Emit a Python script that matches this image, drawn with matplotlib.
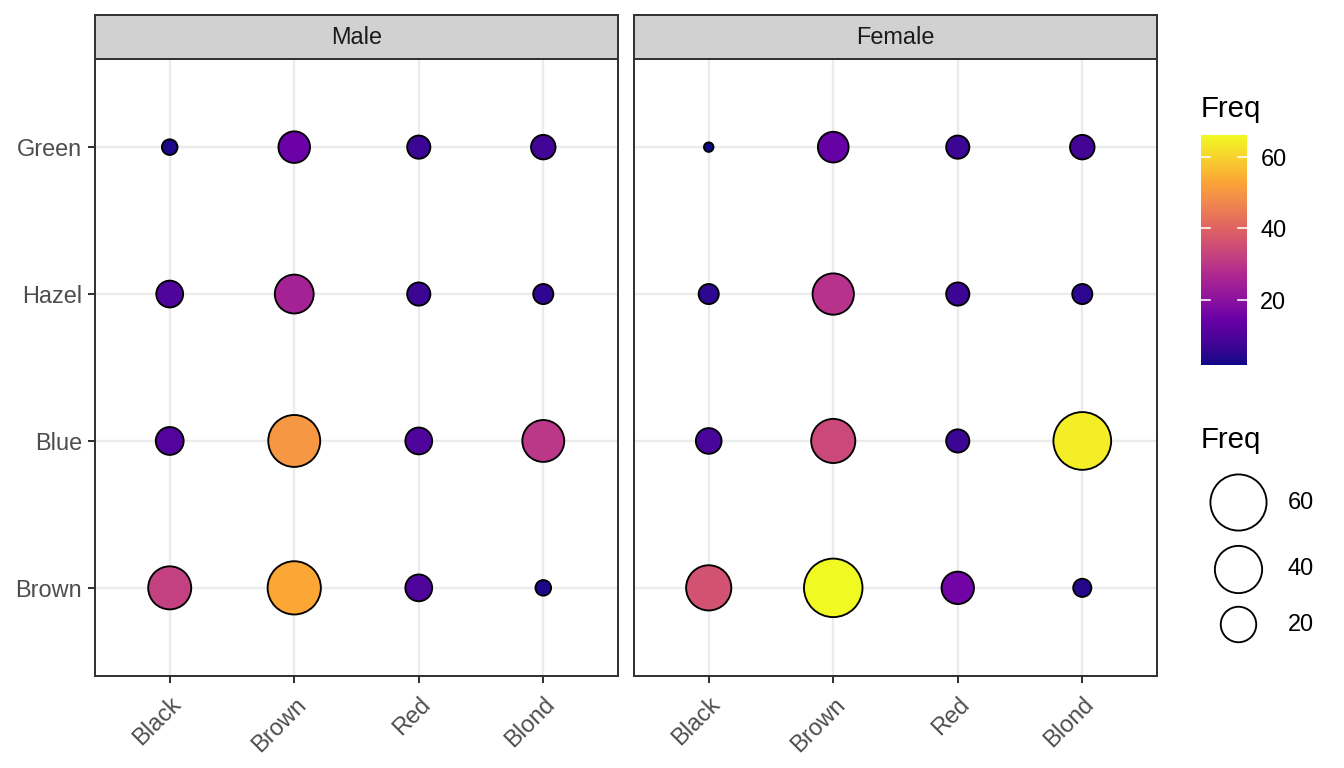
import numpy as np
import matplotlib
matplotlib.use("Agg")
import matplotlib.pyplot as plt
from matplotlib.colors import Normalize, ListedColormap, to_rgb

plt.rcParams['font.family'] = ['Liberation Sans', 'DejaVu Sans']

hair = ['Black', 'Brown', 'Red', 'Blond']
eyes = ['Brown', 'Blue', 'Hazel', 'Green']
# rows = eye colour, columns = hair colour
male = [[32, 53, 10, 3],
        [11, 50, 10, 30],
        [10, 25, 7, 5],
        [3, 15, 7, 8]]
female = [[36, 66, 16, 4],
          [9, 34, 7, 64],
          [5, 29, 7, 5],
          [2, 14, 7, 8]]
panels = ['Male', 'Female']
legend_breaks = [60, 40, 20]

W, H, DPI = 1344, 768, 192
vmin, vmax = 2, 66

# ggplot's viridis_c: six plasma stops interpolated in Lab space
plasma6 = ['#0D0887', '#6A00A8', '#B12A90', '#E16462', '#FCA636', '#F0F921']
M = np.array([[0.4124564, 0.3575761, 0.1804375],
			  [0.2126729, 0.7151522, 0.0721750],
			  [0.0193339, 0.1191920, 0.9503041]])
WHITE = np.array([0.95047, 1.0, 1.08883])
D = 6 / 29


def rgb2lab(rgb):
	c = np.asarray(rgb, float)
	lin = np.where(c <= 0.04045, c / 12.92, ((c + 0.055) / 1.055) ** 2.4)
	t = (M @ lin) / WHITE
	f = np.where(t > D ** 3, np.cbrt(t), t / (3 * D ** 2) + 4 / 29)
	return np.array([116 * f[1] - 16, 500 * (f[0] - f[1]), 200 * (f[1] - f[2])])


def lab2rgb(lab):
	L, a, b = lab
	fy = (L + 16) / 116
	f = np.array([fy + a / 500, fy, fy - b / 200])
	t = np.where(f > D, f ** 3, 3 * D ** 2 * (f - 4 / 29)) * WHITE
	lin = np.linalg.solve(M, t)
	c = np.where(lin <= 0.0031308, 12.92 * lin, 1.055 * np.clip(lin, 0, None) ** (1 / 2.4) - 0.055)
	return np.clip(c, 0, 1)


stops = np.array([rgb2lab(to_rgb(h)) for h in plasma6])
pos = np.linspace(0, 1, len(plasma6))
grid = np.linspace(0, 1, 256)
lab_grid = np.stack([np.interp(grid, pos, stops[:, i]) for i in range(3)], axis=1)
cmap = ListedColormap([lab2rgb(l) for l in lab_grid])
norm = Normalize(vmin, vmax)


def diam_px(v):
	return 11 + 49 * np.sqrt((np.asarray(v, float) - vmin) / (vmax - vmin))


def marker_area(v):
	return ((diam_px(v) - 1.5) * 72 / DPI) ** 2


def rect(x0, y0, x1, y1):
	# pixel box (top-left origin) -> figure fraction
	return [x0 / W, (H - y1) / H, (x1 - x0) / W, (y1 - y0) / H]


fig = plt.figure(figsize=(W / DPI, H / DPI), dpi=DPI)

dark = '#333333'
txt = '#4D4D4D'
lw = 0.75

boxes = [(95, 618), (634, 1157)]
for k, (name, data) in enumerate(zip(panels, [male, female])):
	x0, x1 = boxes[k]
	ax = fig.add_axes(rect(x0, 59, x1, 676))
	vals = np.array(data)
	xx, yy = np.meshgrid(np.arange(len(hair)), np.arange(len(eyes)))
	ax.scatter(xx.ravel(), yy.ravel(), s=marker_area(vals.ravel()),
			   c=vals.ravel(), cmap=cmap, norm=norm,
			   edgecolors='black', linewidths=0.7, zorder=3)
	ax.set_xlim(-0.6, len(hair) - 0.4)
	ax.set_ylim(-0.6, len(eyes) - 0.4)
	ax.set_xticks(range(len(hair)))
	ax.set_xticklabels(hair, rotation=45, ha='right', va='top', rotation_mode='anchor')
	ax.set_yticks(range(len(eyes)))
	ax.set_axisbelow(True)
	ax.grid(True, color='#EBEBEB', lw=0.9)
	for sp in ax.spines.values():
		sp.set_color(dark)
		sp.set_linewidth(lw)
	ax.tick_params(axis='both', colors=dark, labelcolor=txt, labelsize=8.8,
				   length=2.75, width=lw, pad=2.2)
	ax.tick_params(axis='x', pad=3.5)
	if k == 0:
		ax.set_yticklabels(eyes)
	else:
		ax.tick_params(axis='y', left=False, labelleft=False)

	strip = fig.add_axes(rect(x0, 15, x1, 59))
	strip.set_facecolor('#D1D1D1')
	strip.set_xticks([])
	strip.set_yticks([])
	for sp in strip.spines.values():
		sp.set_color(dark)
		sp.set_linewidth(lw)
	strip.text(0.5, 0.5, name, ha='center', va='center', fontsize=8.8,
			   color='#1A1A1A', transform=strip.transAxes)

# colour bar
cax = fig.add_axes(rect(1201, 135, 1247, 365))
grad = np.linspace(vmin, vmax, 256).reshape(-1, 1)
cax.imshow(grad, aspect='auto', cmap=cmap, norm=norm, origin='lower',
		   extent=[0, 1, vmin, vmax])
for b in legend_breaks:
	cax.plot([0, 0.2], [b, b], color='white', lw=0.6)
	cax.plot([0.8, 1], [b, b], color='white', lw=0.6)
cax.set_xlim(0, 1)
cax.set_ylim(vmin, vmax)
cax.set_xticks([])
cax.yaxis.tick_right()
cax.set_yticks(legend_breaks)
cax.tick_params(axis='y', length=0, labelsize=8.8, labelcolor='black', pad=5)
for sp in cax.spines.values():
	sp.set_visible(False)
fig.text(1201 / W, 1 - 117 / H, 'Freq', fontsize=11, ha='left', va='baseline')

# size legend
fig.text(1201 / W, 1 - 448 / H, 'Freq', fontsize=11, ha='left', va='baseline')
sax = fig.add_axes(rect(1180, 465, 1344, 660))
sax.set_xlim(1180, 1344)
sax.set_ylim(660, 465)
sax.axis('off')
gap = 13
ds = diam_px(legend_breaks)
y = 473.5
for b, d in zip(legend_breaks, ds):
	yc = y + d / 2
	sax.scatter([1238], [yc], s=marker_area(b), facecolors='white',
				edgecolors='black', linewidths=0.7, clip_on=False)
	sax.text(1288, yc, str(b), fontsize=8.8, va='center', ha='left')
	y += d + gap

fig.savefig('out.png', dpi=DPI)
